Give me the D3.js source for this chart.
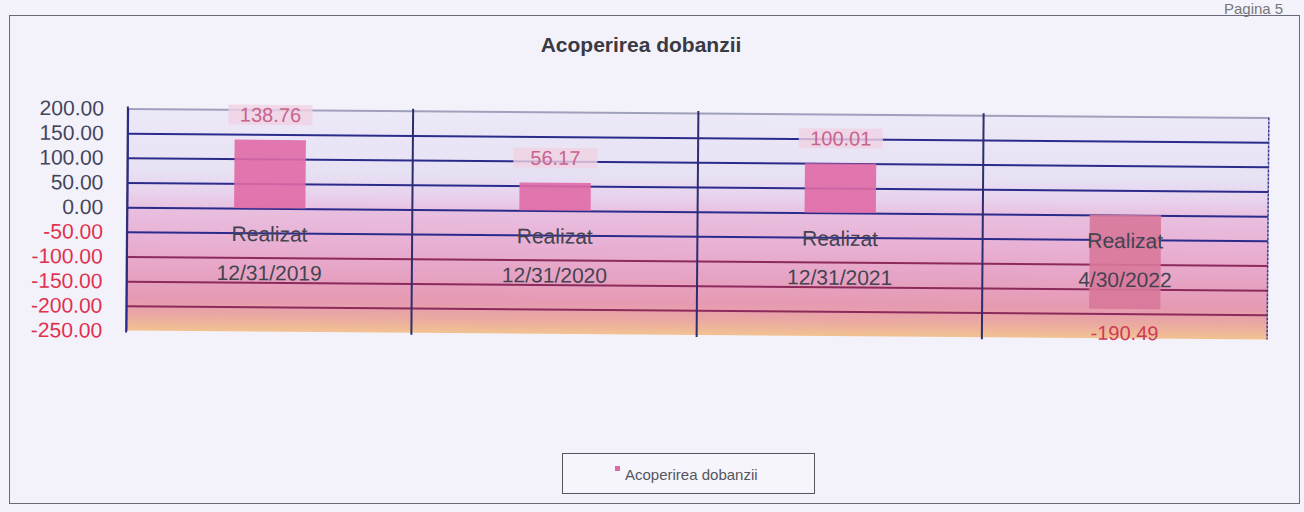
<!DOCTYPE html>
<html><head><meta charset="utf-8">
<script src="https://cdn.jsdelivr.net/npm/d3@7"></script>
<style>
html,body{margin:0;padding:0;background:#f4f3fb;}
svg{display:block;font-family:"Liberation Sans",Arial,sans-serif;}
</style></head>
<body>
<svg id="chart" width="1304" height="512"></svg>
<script>
// ---- data ----
const chartTitle = "Acoperirea dobanzii";
const seriesName = "Acoperirea dobanzii";
const categoryTop = ["Realizat", "Realizat", "Realizat", "Realizat"];
const categoryDates = ["12/31/2019", "12/31/2020", "12/31/2021", "4/30/2022"];
const values = [138.76, 56.17, 100.01, -190.49];
const yTicks = [200, 150, 100, 50, 0, -50, -100, -150, -200, -250];
const pageLabel = "Pagina 5";

const svg = d3.select("#chart");
const W = 1304, H = 512;
const plot = {left: 127, right: 1268, top: 113, bottom: 335};
const fmt = d => d.toFixed(2);

// page background & frame
svg.append("rect").attr("width", W).attr("height", H).attr("fill", "#f4f3fb");
svg.append("rect").attr("x", 9.5).attr("y", 15.5).attr("width", 1290).attr("height", 488)
  .attr("fill", "#f3f2fb").attr("stroke", "#6a6a7a").attr("stroke-width", 1);
svg.append("text").attr("x", 1224).attr("y", 14).attr("font-size", 15).attr("fill", "#777")
  .text(pageLabel);

// title
svg.append("text").attr("x", 641).attr("y", 52).attr("text-anchor", "middle")
  .attr("font-size", 21).attr("font-weight", "bold").attr("fill", "#3a3a44").text(chartTitle);

// gradient
const defs = svg.append("defs");
const grad = defs.append("linearGradient").attr("id", "bg").attr("x1", 0).attr("y1", 0).attr("x2", 0).attr("y2", 1);
[[0, "#ece9f8"], [0.28, "#e7e1f4"], [0.38, "#e8d2ec"], [0.46, "#e8bede"], [0.6, "#e8b0d4"],
 [0.75, "#e6a2c2"], [0.86, "#e69ab2"], [0.93, "#eaa8a2"], [1, "#f2c292"]]
  .forEach(([o, c]) => grad.append("stop").attr("offset", o).attr("stop-color", c));

const g = svg.append("g").attr("transform", "rotate(0.45 697 224)");

const x = d3.scaleBand().domain(categoryDates).range([plot.left, plot.right]).padding(0);
const y = d3.scaleLinear().domain([-250, 200]).range([plot.bottom, plot.top]);

g.append("rect").attr("x", plot.left).attr("y", plot.top)
  .attr("width", plot.right - plot.left).attr("height", plot.bottom - plot.top)
  .attr("fill", "url(#bg)");

// gridlines
const grid = g.append("g").attr("transform", `translate(${plot.left},0)`)
  .call(d3.axisLeft(y).tickValues(yTicks).tickSize(-(plot.right - plot.left)).tickFormat(""));
grid.select(".domain").remove();
grid.selectAll(".tick line")
  .attr("stroke", d => d === 200 ? "#a0a0bc" : (d < -50 && d > -250 ? "#8c2a5c" : "#2b2b8c"))
  .attr("stroke-width", d => d === -250 ? 0 : 2);

// bars
const barW = x.bandwidth() * 0.25;
g.selectAll("rect.bar").data(values).join("rect").attr("class", "bar")
  .attr("x", (d, i) => x(categoryDates[i]) + (x.bandwidth() - barW) / 2)
  .attr("y", d => y(Math.max(0, d)))
  .attr("width", barW)
  .attr("height", d => Math.abs(y(d) - y(0)))
  .attr("fill", d => d >= 0 ? "#e06aa6" : "#d8789a")
  .attr("fill-opacity", 0.9);

// vertical separators
g.selectAll("line.sep").data(categoryDates).join("line").attr("class", "sep")
  .attr("x1", d => x(d)).attr("x2", d => x(d))
  .attr("y1", plot.top - 2).attr("y2", plot.bottom + 2)
  .attr("stroke", "#2e2e6e").attr("stroke-width", 2);
g.append("line").attr("x1", plot.right).attr("x2", plot.right)
  .attr("y1", plot.top).attr("y2", plot.bottom)
  .attr("stroke", "#3a3a90").attr("stroke-width", 1.5).attr("stroke-dasharray", "3,1");

// y tick labels
const yAx = g.append("g").attr("transform", `translate(${plot.left},0)`)
  .call(d3.axisLeft(y).tickValues(yTicks).tickSize(0).tickPadding(24).tickFormat(fmt));
yAx.select(".domain").attr("stroke", "#2b2b8c").attr("stroke-width", 1.5);
yAx.selectAll(".tick text").attr("font-size", 21)
  .attr("font-family", "'Liberation Sans',Arial,sans-serif")
  .attr("fill", d => d < 0 ? "#e0304e" : "#44445a");

// category labels
g.selectAll("text.cat1").data(categoryTop).join("text").attr("class", "cat1")
  .attr("x", (d, i) => x(categoryDates[i]) + x.bandwidth() / 2)
  .attr("y", y(0) + 33).attr("text-anchor", "middle")
  .attr("font-size", 21).attr("fill", "#434350").text(d => d);
g.selectAll("text.cat2").data(categoryDates).join("text").attr("class", "cat2")
  .attr("x", d => x(d) + x.bandwidth() / 2)
  .attr("y", y(0) + 72).attr("text-anchor", "middle")
  .attr("font-size", 21).attr("fill", "#434350").text(d => d);

// data labels
const lab = g.selectAll("g.lab").data(values).join("g").attr("class", "lab")
  .attr("transform", (d, i) => `translate(${x(categoryDates[i]) + x.bandwidth() / 2},${d >= 0 ? y(d) - 18 : y(d) + 31})`);
lab.filter(d => d >= 0).append("rect").attr("x", -42).attr("y", -17).attr("width", 84).attr("height", 20)
  .attr("fill", "#f0d2e4").attr("opacity", 0.8);
lab.append("text").attr("text-anchor", "middle").attr("font-size", 20)
  .attr("fill", d => d >= 0 ? "#c8648e" : "#cc3a5e").text(d => fmt(d));

// legend
svg.append("rect").attr("x", 562.5).attr("y", 453.5).attr("width", 252).attr("height", 40)
  .attr("fill", "#f6f5fb").attr("stroke", "#55555f").attr("stroke-width", 1);
svg.append("rect").attr("x", 615).attr("y", 466).attr("width", 5).attr("height", 5).attr("fill", "#e06aa6");
svg.append("text").attr("x", 625).attr("y", 480).attr("font-size", 15).attr("fill", "#555560").text(seriesName);
</script>
</body></html>
